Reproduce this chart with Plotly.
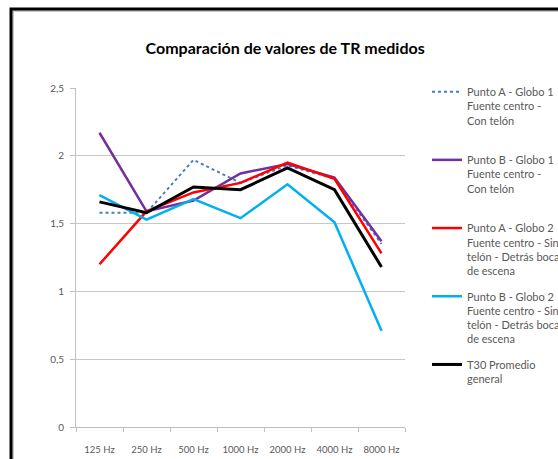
import plotly.graph_objects as go

freqs = ['125 Hz', '250 Hz', '500 Hz', '1000 Hz', '2000 Hz', '4000 Hz', '8000 Hz']

punto_a_g1 = [1.58, 1.58, 1.97, 1.80, 1.93, 1.83, 1.35]
punto_b_g1 = [2.17, 1.59, 1.67, 1.87, 1.94, 1.84, 1.37]
punto_a_g2 = [1.20, 1.59, 1.73, 1.80, 1.95, 1.83, 1.28]
punto_b_g2 = [1.71, 1.53, 1.68, 1.54, 1.79, 1.51, 0.71]
t30_prom = [1.66, 1.58, 1.77, 1.75, 1.91, 1.75, 1.18]

series = [
    ('Punto A - Globo 1<br>Fuente centro -<br>Con telón<br> ', punto_a_g1, '#4A7EBB', 2, 'dot'),
    ('Punto B - Globo 1<br>Fuente centro -<br>Con telón<br> ', punto_b_g1, '#7030A0', 2.5, 'solid'),
    ('Punto A - Globo 2<br>Fuente centro - Sin<br>telón - Detrás boca<br>de escena', punto_a_g2, '#FF0000', 2.5, 'solid'),
    ('Punto B - Globo 2<br>Fuente centro - Sin<br>telón - Detrás boca<br>de escena', punto_b_g2, '#00B0F0', 2.5, 'solid'),
    ('T30 Promedio<br>general<br> <br> ', t30_prom, '#000000', 3, 'solid'),
]

fig = go.Figure()
for i, (name, vals, col, w, dash) in enumerate(series):
    fig.add_trace(go.Scatter(x=freqs, y=vals, name=name, mode='lines',
                             legendgroup=str(i),
                             line=dict(color=col, width=w, dash=dash)))

# marco exterior
L, T, W, H = 76, 88, 329, 339
def px(x):
    return (x - L) / W
def py(y):
    return (T + H - y) / H

fig.add_shape(type='rect', xref='paper', yref='paper', x0=px(13), x1=px(700), y0=py(700), y1=py(11),
              line=dict(color='#C8C8C8', width=2), layer='below')
fig.add_shape(type='rect', xref='paper', yref='paper', x0=px(11), x1=px(700), y0=py(700), y1=py(9),
              line=dict(color='#000000', width=3), layer='below')

fig.update_layout(
    width=558, height=459,
    margin=dict(l=L, r=558 - L - W, t=T, b=459 - T - H, autoexpand=False),
    paper_bgcolor='white', plot_bgcolor='white',
    separators=', ',
    font=dict(family='Lato', color='#595959', size=10),
    title=dict(text='<b>Comparación de valores de TR medidos</b>', x=0.511, xanchor='center',
               y=1 - 48 / 459, yanchor='middle', font=dict(size=16, color='#000000', family='Lato')),
    legend=dict(x=px(427), xanchor='left', y=py(78), yanchor='top', valign='top',
                font=dict(size=11, color='#595959'), tracegroupgap=8, maxheight=1000,
                bgcolor='rgba(0,0,0,0)', itemwidth=30),
    showlegend=True,
)
fig.update_xaxes(type='category', range=[-0.5, 6.5], showline=True, linecolor='#BFBFBF', linewidth=1,
                 ticks='outside', tickson='boundaries', ticklen=4, tickcolor='#BFBFBF',
                 tickangle=0, showgrid=False, ticklabelstandoff=14,
                 tickfont=dict(size=9.5, color='#595959'))
fig.update_yaxes(range=[0, 2.5], dtick=0.5, showline=True, linecolor='#BFBFBF', linewidth=1,
                 ticks='outside', ticklen=5, tickcolor='#BFBFBF', ticklabelstandoff=4,
                 showgrid=True, gridcolor='#C8C8C8', gridwidth=1, zeroline=False,
                 tickfont=dict(size=10, color='#595959'))

fig.write_html('out.html', config={'displayModeBar': False},
               post_script="document.body.style.margin='0';")
